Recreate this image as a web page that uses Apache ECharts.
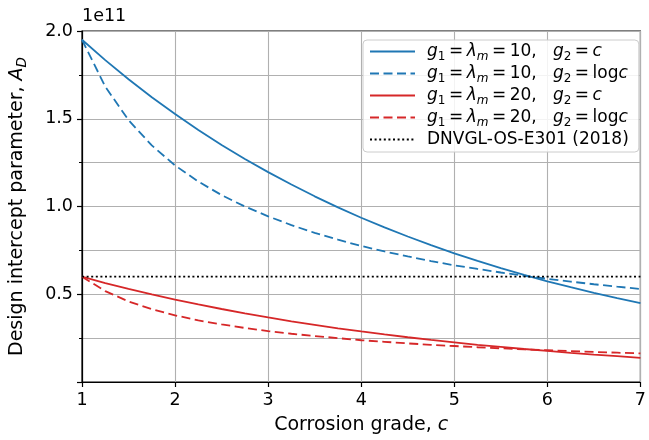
<!DOCTYPE html>
<html><head><meta charset="utf-8">
<script src="https://cdn.jsdelivr.net/npm/echarts@6/dist/echarts.min.js"></script>
<style>html,body{margin:0;padding:0;background:#fff}#c{width:649px;height:440px}</style>
</head><body><div id="c"></div>
<script>
// Values in units of 1e11
const corrosionGrade = [1,1.25,1.5,1.75,2,2.25,2.5,2.75,3,3.25,3.5,3.75,4,4.25,4.5,4.75,5,5.25,5.5,5.75,6,6.25,6.5,6.75,7];
const blueLinear = [1.950,1.834,1.725,1.623,1.527,1.436,1.351,1.271,1.196,1.125,1.058,0.995,0.936,0.881,0.829,0.780,0.733,0.690,0.649,0.610,0.574,0.540,0.508,0.478,0.449];
const blueLog    = [1.950,1.683,1.492,1.348,1.234,1.142,1.065,1.000,0.944,0.894,0.850,0.811,0.775,0.744,0.716,0.689,0.665,0.644,0.624,0.605,0.588,0.572,0.557,0.543,0.530];
const redLinear  = [0.600,0.564,0.531,0.499,0.470,0.442,0.416,0.391,0.368,0.346,0.326,0.306,0.288,0.271,0.255,0.240,0.226,0.212,0.200,0.188,0.177,0.166,0.156,0.147,0.138];
const redLog     = [0.600,0.518,0.459,0.415,0.380,0.351,0.328,0.308,0.290,0.275,0.262,0.250,0.238,0.229,0.220,0.212,0.205,0.198,0.192,0.186,0.181,0.176,0.171,0.167,0.163];
const dnvGrade = [1, 7];
const dnvValue = [0.6, 0.6];
const xTickValues = [1,2,3,4,5,6,7];
const yTickLabels = ['0.5','1.0','1.5','2.0'];
const offsetText = '1e11';
const seriesNames = ['s1','s2','s3','s4','s5'];
const legendLabels = [
  '{i|g}{s|1}{e|=}{i|λ}{si|m}{e|=}{n|10,   }{i|g}{s|2}{e|=}{i|c}',
  '{i|g}{s|1}{e|=}{i|λ}{si|m}{e|=}{n|10,   }{i|g}{s|2}{e|=}{n|log}{i|c}',
  '{i|g}{s|1}{e|=}{i|λ}{si|m}{e|=}{n|20,   }{i|g}{s|2}{e|=}{i|c}',
  '{i|g}{s|1}{e|=}{i|λ}{si|m}{e|=}{n|20,   }{i|g}{s|2}{e|=}{n|log}{i|c}',
  '{n|DNVGL-OS-E301 (2018)}'
];

const FF = 'DejaVu Sans';
const BLUE = '#1f77b4', RED = '#d62728';
const pairs = (xs, ys) => xs.map((x, i) => [x, ys[i]]);

const chart = echarts.init(document.getElementById('c'), null, {renderer: 'canvas'});
const richLegend = {
  n:  {fontFamily: FF, fontSize: 17, color: '#000', lineHeight: 22, verticalAlign: 'middle'},
  e:  {fontFamily: FF, fontSize: 17, color: '#000', lineHeight: 22, verticalAlign: 'middle', padding: [0, 3.5, 0, 3.5]},
  i:  {fontFamily: FF, fontSize: 17, fontStyle: 'italic', color: '#000', lineHeight: 22, verticalAlign: 'middle'},
  s:  {fontFamily: FF, fontSize: 12, color: '#000', lineHeight: 12, verticalAlign: 'bottom'},
  si: {fontFamily: FF, fontSize: 12, fontStyle: 'italic', color: '#000', lineHeight: 12, verticalAlign: 'bottom'}
};
const mkLine = (name, data, color, type, width) => ({
  name, type: 'line', data, symbol: 'none', showSymbol: false, smooth: false,
  lineStyle: {color, type, width}, itemStyle: {color}, animation: false, z: 3
});

chart.setOption({
  animation: false,
  backgroundColor: '#fff',
  textStyle: {fontFamily: FF},
  grid: {left: 82, right: 7, top: 31, bottom: 57, show: true, borderColor: '#000', borderWidth: 1.2, backgroundColor: 'transparent'},
  xAxis: {
    type: 'value', min: 1, max: 7, interval: 1,
    name: '{n|Corrosion grade, }{i|c}', nameLocation: 'middle', nameGap: 34,
    nameTextStyle: {rich: {
      n: {fontFamily: FF, fontSize: 19, color: '#000'},
      i: {fontFamily: FF, fontSize: 19, fontStyle: 'italic', color: '#000'}
    }},
    axisLine: {show: true, lineStyle: {color: '#000', width: 1.2}},
    axisTick: {show: true, length: 5, lineStyle: {color: '#000', width: 1.2}},
    axisLabel: {fontFamily: FF, fontSize: 17.5, color: '#000', margin: 9,
      formatter: v => xTickValues.includes(v) ? String(v) : ''},
    splitLine: {show: true, lineStyle: {color: '#b0b0b0', width: 1.1}}
  },
  yAxis: {
    type: 'value', min: 0, max: 2, interval: 0.5,
    name: '{n|Design intercept parameter, }{i|A}{s|D}', nameLocation: 'middle', nameGap: 53, nameRotate: 90,
    nameTextStyle: {rich: {
      n: {fontFamily: FF, fontSize: 19, color: '#000', lineHeight: 23, verticalAlign: 'middle'},
      i: {fontFamily: FF, fontSize: 19, fontStyle: 'italic', color: '#000', lineHeight: 23, verticalAlign: 'middle'},
      s: {fontFamily: FF, fontSize: 13.5, fontStyle: 'italic', color: '#000', lineHeight: 13, verticalAlign: 'bottom'}
    }},
    axisLine: {show: true, lineStyle: {color: '#000', width: 1.2}},
    axisTick: {show: true, length: 5, lineStyle: {color: '#000', width: 1.2}},
    minorTick: {show: true, splitNumber: 2, length: 3, lineStyle: {color: '#000', width: 1}},
    minorSplitLine: {show: true, lineStyle: {color: '#b0b0b0', width: 1.1}},
    axisLabel: {fontFamily: FF, fontSize: 17.5, color: '#000', margin: 9,
      formatter: v => { const s = v.toFixed(1); return yTickLabels.includes(s) ? s : ''; }},
    splitLine: {show: true, lineStyle: {color: '#b0b0b0', width: 1.1}}
  },
  legend: {
    orient: 'vertical', left: 363, top: 40,
    data: seriesNames,
    padding: [3, 10, 4, 6],
    itemWidth: 45, itemHeight: 14, itemGap: 2.5,
    itemStyle: {opacity: 0},
    backgroundColor: 'rgba(255,255,255,0.85)', borderColor: '#cccccc', borderWidth: 1, borderRadius: 4,
    formatter: name => legendLabels[seriesNames.indexOf(name)],
    textStyle: {fontFamily: FF, fontSize: 17, color: '#000', padding: [0, 0, 0, 7], rich: richLegend}
  },
  graphic: [{
    type: 'text', left: 82, top: 7,
    style: {text: offsetText, font: '17.5px "DejaVu Sans"', fill: '#000'}
  }],
  series: [
    mkLine(seriesNames[0], pairs(corrosionGrade, blueLinear), BLUE, 'solid', 1.8),
    mkLine(seriesNames[1], pairs(corrosionGrade, blueLog), BLUE, [9, 4.5], 1.8),
    mkLine(seriesNames[2], pairs(corrosionGrade, redLinear), RED, 'solid', 1.8),
    mkLine(seriesNames[3], pairs(corrosionGrade, redLog), RED, [9, 4.5], 1.8),
    mkLine(seriesNames[4], pairs(dnvGrade, dnvValue), '#000', [2, 2.6], 1.8)
  ]
});
</script></body></html>
